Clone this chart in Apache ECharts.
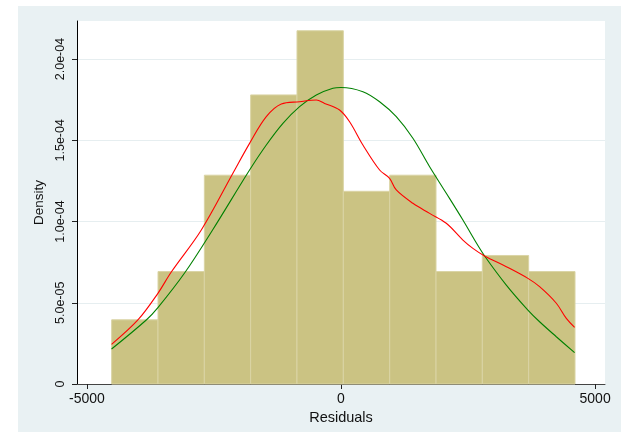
<!DOCTYPE html>
<html>
<head>
<meta charset="utf-8">
<script src="https://cdn.jsdelivr.net/npm/echarts@6/dist/echarts.min.js"></script>
<style>
  html, body { margin: 0; padding: 0; background: #ffffff; }
  #wrap { position: relative; width: 621px; height: 439px; }
  #region { position: absolute; left: 18px; top: 6px; width: 603px; height: 426px; background: #E9F1F3; }
  #chart { position: absolute; left: 0; top: 0; width: 621px; height: 439px; }
</style>
</head>
<body>
<div id="wrap">
  <div id="region"></div>
  <div id="chart"></div>
</div>
<script>
// Histogram bins of the residuals (edges) and their densities
const binEdges = [-4513, -3601, -2689, -1778, -866, 46, 958, 1870, 2781, 3693, 4605];
const binDensity = [3.95e-5, 6.92e-5, 1.285e-4, 1.779e-4, 2.174e-4, 1.186e-4, 1.285e-4, 6.92e-5, 7.91e-5, 6.92e-5];

// Kernel density estimate (red)
const kdensX = [-4515, -3997, -3603, -3340, -2749, -2127, -1799, -1470, -1175, -815, -486, -323, -28, 169, 431, 760, 956, 1088, 1415, 1744, 2072, 2399, 2596, 2826, 3253, 3678, 3908, 4237, 4434, 4597];
const kdensY = [2.44e-5, 3.94e-5, 5.58e-5, 6.89e-5, 9.48e-5, 1.297e-4, 1.481e-4, 1.645e-4, 1.723e-4, 1.737e-4, 1.748e-4, 1.727e-4, 1.686e-4, 1.614e-4, 1.471e-4, 1.317e-4, 1.266e-4, 1.194e-4, 1.112e-4, 1.050e-4, 9.89e-5, 8.86e-5, 8.35e-5, 7.88e-5, 7.22e-5, 6.50e-5, 5.99e-5, 4.97e-5, 4.04e-5, 3.49e-5];

// Normal density overlay (green)
const normX = [-4515, -3832, -3603, -3078, -2527, -1799, -1470, -1143, -815, -486, -159, 0, 431, 760, 1088, 1415, 1744, 2072, 2399, 2629, 2826, 3253, 3678, 3908, 4237, 4597];
const normY = [2.154e-5, 3.94e-5, 4.70e-5, 6.83e-5, 9.48e-5, 1.317e-4, 1.471e-4, 1.604e-4, 1.707e-4, 1.779e-4, 1.820e-4, 1.825e-4, 1.799e-4, 1.737e-4, 1.645e-4, 1.512e-4, 1.337e-4, 1.174e-4, 1.009e-4, 8.86e-5, 7.88e-5, 6.09e-5, 4.55e-5, 3.83e-5, 2.91e-5, 1.93e-5];

// Axis ticks and labels
const xTicks = [-5000, 0, 5000];
const xTickLabels = ['-5000', '0', '5000'];
const yTicks = [0, 5e-5, 1e-4, 1.5e-4, 2e-4];
const yTickLabels = ['0', '5.0e-05', '1.0e-04', '1.5e-04', '2.0e-04'];

const barData = binDensity.map((d, i) => [binEdges[i], binEdges[i + 1], d]);
const zip = (xs, ys) => xs.map((x, i) => [x, ys[i]]);
const pick = (ticks, labels) => v => {
  const i = ticks.findIndex(t => Math.abs(t - v) < Math.abs(ticks[1] - ticks[0]) * 1e-6);
  return i >= 0 ? labels[i] : '';
};

const font = '"Liberation Sans", Arial, sans-serif';
const chart = echarts.init(document.getElementById('chart'), null, { renderer: 'canvas' });

chart.setOption({
  animation: false,
  backgroundColor: 'transparent',
  grid: {
    left: 77, top: 21, width: 528, height: 363,
    show: true, backgroundColor: '#ffffff', borderWidth: 0
  },
  xAxis: {
    type: 'value',
    min: -5195, max: 5195,
    name: 'Residuals',
    nameLocation: 'middle',
    nameGap: 26,
    nameTextStyle: { color: '#111', fontSize: 14.5, fontFamily: font },
    axisLine: { show: true, onZero: false, lineStyle: { color: '#444', width: 1 } },
    axisTick: { show: true, length: 5, customValues: xTicks, lineStyle: { color: '#222' } },
    axisLabel: {
      customValues: xTicks, color: '#111', fontSize: 14, fontFamily: font, margin: 8,
      formatter: pick(xTicks, xTickLabels)
    },
    splitLine: { show: false }
  },
  yAxis: {
    type: 'value',
    min: 0, max: 2.234e-4,
    name: 'Density',
    nameLocation: 'middle',
    nameGap: 22,
    nameRotate: 90,
    nameTextStyle: { color: '#111', fontSize: 13.5, fontFamily: font },
    axisLine: { show: true, onZero: false, lineStyle: { color: '#000', width: 1 } },
    axisTick: { show: true, length: 5, customValues: yTicks, lineStyle: { color: '#222' } },
    axisLabel: {
      customValues: yTicks,
      rotate: 90,
      color: '#111', fontSize: 12.5, fontFamily: font, margin: 10,
      formatter: pick(yTicks, yTickLabels)
    },
    splitLine: { show: true, lineStyle: { color: '#E6EEF0', width: 1 } }
  },
  series: [
    {
      type: 'custom',
      data: barData,
      encode: { x: [0, 1], y: 2 },
      renderItem: (params, api) => {
        const top = api.coord([api.value(0), api.value(2)]);
        const bottom = api.coord([api.value(1), 0]);
        return {
          type: 'rect',
          shape: { x: top[0], y: top[1], width: bottom[0] - top[0], height: bottom[1] - top[1] },
          style: { fill: '#CBC383', stroke: '#DAD4A5', lineWidth: 1 }
        };
      },
      z: 2
    },
    {
      type: 'line',
      data: zip(kdensX, kdensY),
      showSymbol: false,
      smooth: 0.35,
      lineStyle: { color: '#FF0000', width: 1.1 },
      z: 4
    },
    {
      type: 'line',
      data: zip(normX, normY),
      showSymbol: false,
      smooth: 0.35,
      lineStyle: { color: '#008000', width: 1.1 },
      z: 3
    }
  ]
});
</script>
</body>
</html>
